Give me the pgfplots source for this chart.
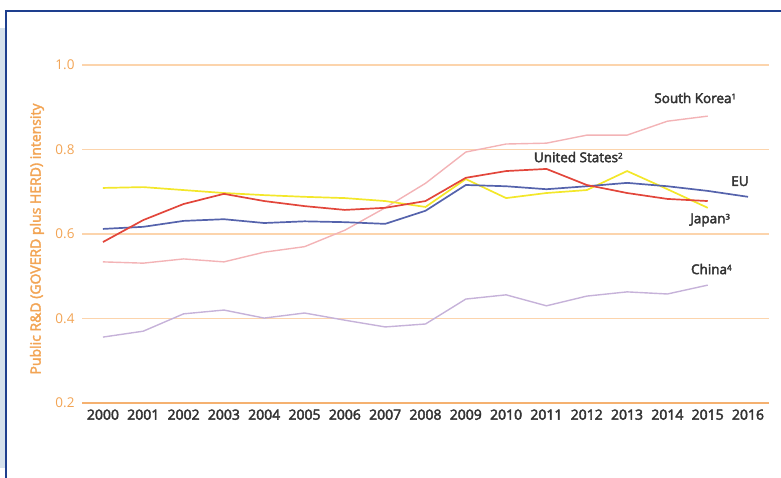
\documentclass[border=0pt]{standalone}
\usepackage{fontspec}
\setmainfont{Open Sans}
\newfontface\semib{Open Sans}[FakeBold=3]
\newfontface\semibb{Open Sans}[FakeBold=2.5]
\usepackage{pgfplots}
\pgfplotsset{compat=1.18}
\definecolor{frameblue}{HTML}{1E3F8E}
\definecolor{sidegray}{HTML}{D5E1EC}
\definecolor{tickorange}{HTML}{F2A454}
\definecolor{gridpeach}{HTML}{FCD4AC}
\definecolor{axisorange}{HTML}{F5B170}
\definecolor{labgray}{HTML}{333333}
\definecolor{cEU}{HTML}{5563AC}
\definecolor{cUS}{HTML}{E2463B}
\definecolor{cJP}{HTML}{F3E72A}
\definecolor{cKR}{HTML}{F3B3B6}
\definecolor{cCN}{HTML}{C6B2D9}
\begin{document}
\begin{tikzpicture}
\path[use as bounding box] (0pt,0pt) rectangle (781pt,478pt);
\fill[sidegray] (0pt,10pt) rectangle (5pt,450pt);
\draw[frameblue,line width=2pt] (6pt,0pt) -- (6pt,467pt) -- (781pt,467pt);
\begin{axis}[
  at={(82pt,75pt)}, anchor=south west,
  scale only axis, width=687pt, height=338pt,
  xmin=1999.48, xmax=2016.52, ymin=0.2, ymax=1.0,
  axis x line=bottom, axis y line=left,
  x axis line style={axisorange, line width=1.8pt, -},
  y axis line style={draw=none},
  xtick={2000,...,2016}, ytick={0.2,0.4,0.6,0.8,1.0},
  xticklabel style={/pgf/number format/1000 sep=, font=\semib\fontsize{14}{16}\selectfont, text=labgray, yshift=-3pt},
  yticklabel style={/pgf/number format/fixed, /pgf/number format/fixed zerofill, /pgf/number format/precision=1, font=\fontsize{13.5}{16}\selectfont, text=tickorange, xshift=-4pt},
  /pgf/number format/assume math mode=true,
  major tick length=0pt,
  ymajorgrids, grid style={gridpeach, line width=1.5pt},
  clip=false,
]
\addplot[cKR, line width=1.4pt] coordinates {(2000,0.534)(2001,0.531)(2002,0.541)(2003,0.534)(2004,0.557)(2005,0.570)(2006,0.609)(2007,0.662)(2008,0.720)(2009,0.794)(2010,0.813)(2011,0.815)(2012,0.834)(2013,0.834)(2014,0.867)(2015,0.879)};
\addplot[cCN, line width=1.4pt] coordinates {(2000,0.356)(2001,0.370)(2002,0.411)(2003,0.420)(2004,0.401)(2005,0.413)(2006,0.396)(2007,0.380)(2008,0.387)(2009,0.446)(2010,0.456)(2011,0.430)(2012,0.453)(2013,0.463)(2014,0.458)(2015,0.479)};
\addplot[cJP, line width=1.7pt] coordinates {(2000,0.709)(2001,0.711)(2002,0.704)(2003,0.697)(2004,0.692)(2005,0.688)(2006,0.685)(2007,0.678)(2008,0.664)(2009,0.730)(2010,0.685)(2011,0.697)(2012,0.704)(2013,0.749)(2014,0.706)(2015,0.662)};
\addplot[cEU, line width=1.7pt] coordinates {(2000,0.612)(2001,0.617)(2002,0.631)(2003,0.635)(2004,0.626)(2005,0.630)(2006,0.628)(2007,0.624)(2008,0.655)(2009,0.716)(2010,0.713)(2011,0.706)(2012,0.713)(2013,0.721)(2014,0.713)(2015,0.702)(2016,0.688)};
\addplot[cUS, line width=1.7pt] coordinates {(2000,0.581)(2001,0.633)(2002,0.671)(2003,0.695)(2004,0.678)(2005,0.666)(2006,0.657)(2007,0.662)(2008,0.678)(2009,0.733)(2010,0.749)(2011,0.754)(2012,0.716)(2013,0.697)(2014,0.683)(2015,0.678)};
\begin{scope}[every node/.style={font=\semib\fontsize{13.5}{16}\selectfont, text=labgray}]
\node at (axis cs:2014.69,0.922) {South Korea\raisebox{0.5ex}{\fontsize{8}{9}\selectfont 1}};
\node at (axis cs:2011.79,0.782) {United States\raisebox{0.5ex}{\fontsize{8}{9}\selectfont 2}};
\node at (axis cs:2015.8,0.725) {EU};
\node at (axis cs:2015.06,0.633) {Japan\raisebox{0.5ex}{\fontsize{8}{9}\selectfont 3}};
\node at (axis cs:2015.09,0.517) {China\raisebox{0.5ex}{\fontsize{8}{9}\selectfont 4}};
\end{scope}
\end{axis}
\node[rotate=90, font=\semibb\fontsize{14}{16}\selectfont, text=tickorange] at (37pt,239pt) {Public R\&D (GOVERD plus HERD) intensity};
\end{tikzpicture}
\end{document}
